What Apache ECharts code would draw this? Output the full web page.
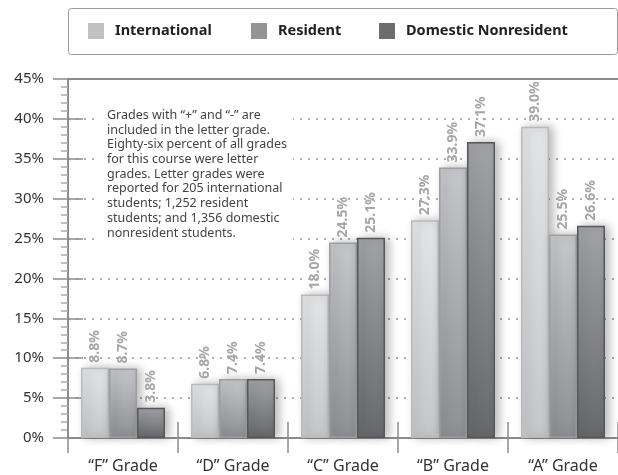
<!DOCTYPE html>
<html><head><meta charset="utf-8">
<script src="https://cdn.jsdelivr.net/npm/echarts@6/dist/echarts.min.js"></script>
<style>html,body{margin:0;padding:0;background:#fff}#c{width:618px;height:475px}</style>
</head><body><div id="c"></div>
<script>
const categories = ['\u201CF\u201D Grade', '\u201CD\u201D Grade', '\u201CC\u201D Grade', '\u201CB\u201D Grade', '\u201CA\u201D Grade'];
const international = [8.8, 6.8, 18.0, 27.3, 39.0];
const resident = [8.7, 7.4, 24.5, 33.9, 25.5];
const domestic = [3.8, 7.4, 25.1, 37.1, 26.6];
const seriesNames = ['International', 'Resident', 'Domestic Nonresident'];
const note = 'Grades with \u201C+\u201D and \u201C-\u201D are\nincluded in the letter grade.\nEighty-six percent of all grades\nfor this course were letter\ngrades. Letter grades were\nreported for 205 international\nstudents; 1,252 resident\nstudents; and 1,356 domestic\nnonresident students.';

const FONT = '"Noto Sans", sans-serif';
function grad(top, bottom) {
  return new echarts.graphic.LinearGradient(0, 0, 0, 1, [{offset: 0, color: top}, {offset: 1, color: bottom}]);
}
const styles = [
  {fill: grad('#e3e4e6', '#c5c6c9'), border: '#b9babd', legend: '#c0c1c4'},
  {fill: grad('#c6c7ca', '#8e8f93'), border: '#9d9ea1', legend: '#939497'},
  {fill: grad('#a2a3a6', '#67686c'), border: '#56575b', legend: '#6c6d71'}
];
const dataSets = [international, resident, domestic];

const chart = echarts.init(document.getElementById('c'), null, {renderer: 'canvas'});
const axisGray = '#8c8c8c';
const option = {
  animation: false,
  grid: {left: 68, right: 0, top: 79, bottom: 37, containLabel: false},
  legend: seriesNames.map((n, i) => ({
    data: [{name: n, icon: 'rect', itemStyle: {color: styles[i].legend, borderWidth: 0, shadowBlur: 0}}],
    left: [88, 251, 379][i], top: 23, itemWidth: 16, itemHeight: 16,
    selectedMode: false, padding: 0,
    textStyle: {fontFamily: FONT, fontWeight: 'bold', fontSize: 14.5, color: '#222', padding: [0, 0, 0, 6]}
  })),
  xAxis: [
    {type: 'category', data: categories, position: 'bottom',
      axisLine: {lineStyle: {color: axisGray, width: 2}},
      axisTick: {show: true, length: 15, lineStyle: {color: axisGray, width: 1.5}},
      axisLabel: {fontFamily: FONT, fontSize: 16, color: '#333', margin: 20}},
    {type: 'category', data: categories, position: 'bottom',
      axisLine: {show: false},
      axisTick: {show: true, inside: true, length: 16, lineStyle: {color: axisGray, width: 1.5}},
      axisLabel: {show: false}},
    {type: 'category', data: categories, position: 'top',
      axisLine: {lineStyle: {color: axisGray, width: 2}},
      axisTick: {show: false}, axisLabel: {show: false}}
  ],
  yAxis: [
    {type: 'value', min: 0, max: 45, interval: 5, position: 'left',
      axisLine: {show: true, lineStyle: {color: axisGray, width: 2}},
      axisTick: {show: true, length: 15, lineStyle: {color: axisGray, width: 1.5}},
      minorTick: {show: true, splitNumber: 5, length: 7, lineStyle: {color: '#aaa', width: 1.5}},
      splitLine: {show: true, lineStyle: {color: '#b0b0b0', width: 2, type: [2, 6]}},
      axisLabel: {fontFamily: FONT, fontSize: 15, color: '#333', margin: 24, formatter: '{value}%'}},
    {type: 'value', min: 0, max: 45, interval: 5, position: 'left',
      axisLine: {show: false},
      axisTick: {show: true, inside: true, length: 15, lineStyle: {color: axisGray, width: 1.5}},
      splitLine: {show: false}, axisLabel: {show: false}}
  ],
  graphic: [
    {type: 'rect', left: 68, top: 8, z: -1,
      shape: {width: 549, height: 46, r: 3},
      style: {fill: '#fff', stroke: '#9a9a9a', lineWidth: 1}},
    {type: 'text', x: 97, y: 106, z: 10,
      style: {text: note, fill: '#444', font: '12.5px ' + FONT, lineHeight: 14.7,
        backgroundColor: '#fff', padding: [2, 6, 2, 10]}}
  ],
  series: dataSets.map((d, i) => ({
    name: seriesNames[i], type: 'bar', data: d, barWidth: 28, barGap: '0%',
    xAxisIndex: 0, yAxisIndex: 0,
    itemStyle: {color: styles[i].fill, borderColor: styles[i].border, borderWidth: 1.5,
      shadowColor: 'rgba(0,0,0,0.28)', shadowBlur: 10, shadowOffsetX: 4},
    label: {show: true, position: 'top', rotate: 90, align: 'left', verticalAlign: 'middle',
      distance: 5, fontFamily: FONT, fontWeight: 'bold', fontSize: 14, color: '#a5a6a9',
      formatter: p => p.value.toFixed(1) + '%'}
  }))
};
chart.setOption(option);
</script></body></html>
